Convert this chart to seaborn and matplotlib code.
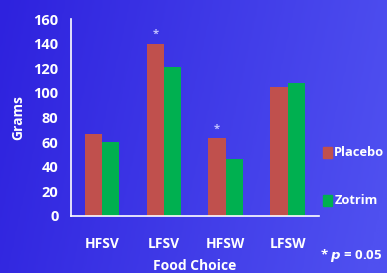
import matplotlib
matplotlib.use("Agg")
import matplotlib.pyplot as plt
from matplotlib.colors import LinearSegmentedColormap
import numpy as np
import pandas as pd
import seaborn as sns

foods = ["HFSV", "LFSV", "HFSW", "LFSW"]
placebo = [67, 140, 63, 105]
zotrim = [60, 121, 46, 108]
groups = ["Placebo", "Zotrim"]
starred = ["LFSV", "HFSW"]

df = pd.DataFrame({
    "Food": foods * 2,
    "Grams": placebo + zotrim,
    "Group": [groups[0]] * 4 + [groups[1]] * 4,
})

sns.set_style("white")
plt.rcParams["font.family"] = ["Open Sans", "DejaVu Sans"]
plt.rcParams["font.weight"] = "bold"

fig = plt.figure(figsize=(3.87, 2.73), dpi=100)

# background gradient
bg = fig.add_axes([0, 0, 1, 1], zorder=-10)
cmap = LinearSegmentedColormap.from_list("bg", ["#2e22de", "#4f50f0"])
grad = np.linspace(0, 1, 256)[None, :] + np.linspace(0, 0.15, 64)[:, None]
bg.imshow(grad, aspect="auto", cmap=cmap, extent=[0, 1, 0, 1], vmin=0, vmax=1.1)
bg.axis("off")

ax = fig.add_axes([0.1835, 0.209, 0.640, 0.721])
ax.patch.set_alpha(0)
sns.barplot(data=df, x="Food", y="Grams", hue="Group", order=foods,
            palette=["#c0504d", "#00b050"], width=0.56, saturation=1,
            linewidth=0, legend=False, ax=ax)

ax.set_xlim(-0.5, 3.5)
ax.set_ylim(0, 160)
ax.set_yticks(range(0, 161, 20))
ax.set_xticks(range(len(foods)))
ax.set_xticklabels(foods)
ax.set_xticks([i - 0.5 for i in range(len(foods) + 1)], minor=True)
ax.tick_params(axis="x", which="major", length=0, pad=15, colors="white", labelsize=10)
ax.tick_params(axis="x", which="minor", length=5, color="#b0b0ff", width=1, direction="out")
ax.tick_params(axis="y", length=5, color="#b0b0ff", width=1, direction="out",
               colors="white", labelsize=10.5, pad=4)
for lab in ax.get_xticklabels() + ax.get_yticklabels():
    lab.set_fontweight("bold")
    lab.set_color("white")

for s in ["top", "right"]:
    ax.spines[s].set_visible(False)
for s in ["left", "bottom"]:
    ax.spines[s].set_color("white")
    ax.spines[s].set_linewidth(1.2)

ax.set_ylabel("Grams", color="white", fontsize=10, fontweight="bold", labelpad=6)
ax.set_xlabel("Food Choice", color="white", fontsize=10, fontweight="bold", labelpad=6)

for f in starred:
    i = foods.index(f)
    ax.text(i - 0.14, placebo[i] + 3, "*", color="#c0c0ff", ha="center",
            va="bottom", fontsize=8, fontweight="bold")

# legend
fig.patches.append(plt.Rectangle((0.834, 0.42), 0.024, 0.042, color="#c0504d",
                                 transform=fig.transFigure))
fig.text(0.864, 0.441, "Placebo", color="white", fontsize=9.3, fontweight="bold", va="center")
fig.patches.append(plt.Rectangle((0.834, 0.245), 0.024, 0.042, color="#00b050",
                                 transform=fig.transFigure))
fig.text(0.864, 0.266, "Zotrim", color="white", fontsize=9.3, fontweight="bold", va="center")
fig.text(0.826, 0.065, "* $\\boldsymbol{p}$ = 0.05", color="white", fontsize=9.5,
         fontweight="bold", va="center")

fig.savefig("out.png", dpi=100)
